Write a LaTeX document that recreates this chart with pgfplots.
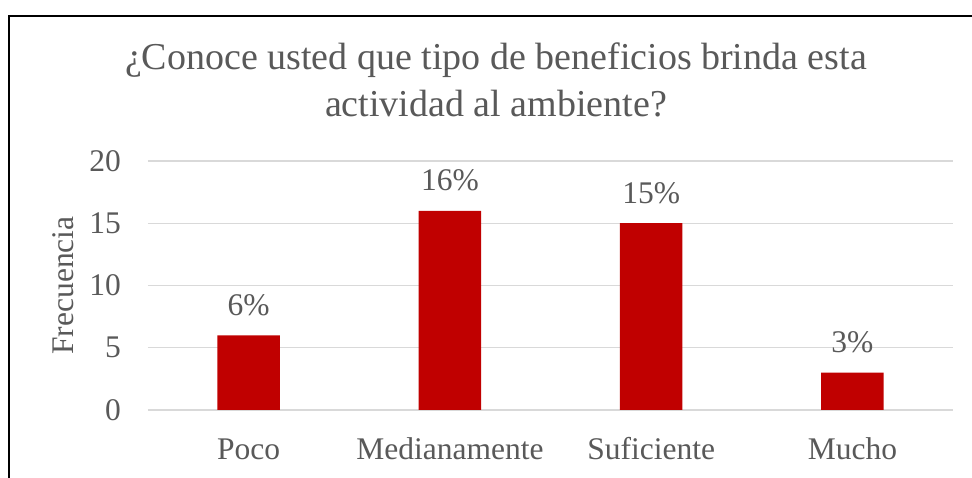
\documentclass[border=0pt]{standalone}
\usepackage{fontspec}
\setmainfont{Liberation Serif}
\usepackage{pgfplots}
\pgfplotsset{compat=1.18}
\definecolor{txt}{HTML}{595959}
\definecolor{barred}{HTML}{C00000}
\definecolor{gridc}{HTML}{D9D9D9}
\begin{document}
\begin{tikzpicture}
\useasboundingbox (0pt,0pt) rectangle (972pt,478pt);
\fill[white] (0pt,0pt) rectangle (972pt,478pt);
\draw[black, line width=1.6pt] (9pt,-30pt) -- (9pt,462pt) -- (1000pt,462pt);
\node[font=\fontsize{38}{44}\selectfont, text=txt, anchor=base, inner sep=0pt] at (496pt,408pt) {¿Conoce usted que tipo de beneficios brinda esta};
\node[font=\fontsize{38}{44}\selectfont, text=txt, anchor=base, inner sep=0pt] at (496pt,361pt) {actividad al ambiente?};
\begin{axis}[
  at={(148pt,68pt)}, anchor=south west,
  scale only axis, width=805pt, height=249pt,
  ybar, bar width=0.31,
  xmin=-0.5, xmax=3.5, ymin=0, ymax=20,
  ytick={0,5,10,15,20},
  xtick={0,1,2,3},
  xticklabels={Poco,Medianamente,Suficiente,Mucho},
  axis line style={draw=none},
  major tick length=0pt,
  tick style={draw=none},
  ymajorgrids, grid style={draw=gridc, line width=1.3pt},
  /pgf/number format/assume math mode=true,
  tick label style={font=\fontsize{31.5}{36}\selectfont, text=txt},
  yticklabel style={inner sep=0pt, anchor=east, xshift=-27pt},
  xticklabel style={inner sep=0pt, anchor=north, text height=21pt, text depth=0pt, yshift=-28pt},
  ylabel={Frecuencia},
  every axis y label/.style={at={(axis description cs:0,0.5)}, xshift=-85pt, rotate=90, anchor=center, font=\fontsize{31.5}{36}\selectfont, text=txt},
  nodes near coords={\pgfmathprintnumber{\pgfplotspointmeta}\%},
  point meta=y,
  every node near coord/.append style={font=\fontsize{31.5}{36}\selectfont, text=txt, inner sep=0pt, text depth=0pt, yshift=20pt},
]
\addplot[fill=barred, draw=none] coordinates {(0,6) (1,16) (2,15) (3,3)};
\end{axis}
\end{tikzpicture}
\end{document}
